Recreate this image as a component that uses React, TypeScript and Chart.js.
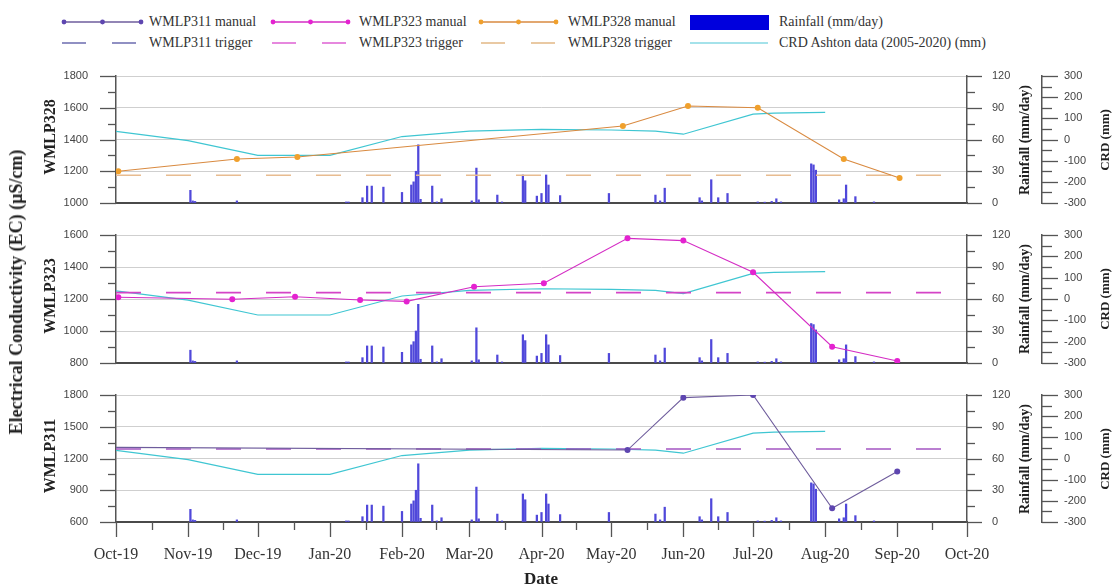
import React, { useEffect, useRef } from 'react';
import { Chart, registerables } from 'chart.js';

Chart.register(...registerables);

// ---------------- data ----------------
const monthTickDates = ['2019-10-01', '2019-11-01', '2019-12-01', '2020-01-01', '2020-02-01', '2020-03-01', '2020-04-01', '2020-05-01', '2020-06-01', '2020-07-01', '2020-08-01', '2020-09-01', '2020-10-01'];
const monthTickLabels = ['Oct-19', 'Nov-19', 'Dec-19', 'Jan-20', 'Feb-20', 'Mar-20', 'Apr-20', 'May-20', 'Jun-20', 'Jul-20', 'Aug-20', 'Sep-20', 'Oct-20'];

const rainDates = [
  '2019-11-02', '2019-11-03', '2019-11-04', '2019-11-22',
  '2020-01-08', '2020-01-09', '2020-01-15', '2020-01-17', '2020-01-19', '2020-01-24',
  '2020-02-01', '2020-02-05', '2020-02-06', '2020-02-07', '2020-02-08', '2020-02-09', '2020-02-14', '2020-02-16', '2020-02-18',
  '2020-03-02', '2020-03-04', '2020-03-05', '2020-03-13', '2020-03-15', '2020-03-24', '2020-03-25', '2020-03-30',
  '2020-04-01', '2020-04-03', '2020-04-04', '2020-04-09', '2020-04-30',
  '2020-05-20', '2020-05-22', '2020-05-24',
  '2020-06-08', '2020-06-09', '2020-06-13', '2020-06-16', '2020-06-20',
  '2020-07-03', '2020-07-06', '2020-07-09', '2020-07-11', '2020-07-13',
  '2020-07-26', '2020-07-27', '2020-07-28',
  '2020-08-07', '2020-08-09', '2020-08-10', '2020-08-14', '2020-08-22',
];
const rainMm = [
  12, 2, 1.5, 2,
  1, 1, 5, 16, 16, 15,
  10, 17, 20, 30, 55, 3.5, 16, 1, 4,
  2, 33, 3, 7.5, 1, 26.5, 21, 6.5,
  9, 26.5, 17, 7, 9,
  7.5, 2, 14,
  5, 2, 22, 5, 9,
  1, 0.8, 1.5, 4, 1,
  37, 36, 31,
  3, 4, 17, 6, 1,
];

const crdDates = ['2019-10-01', '2019-11-01', '2019-12-01', '2020-01-01', '2020-02-01', '2020-03-01', '2020-04-01', '2020-05-01', '2020-05-20', '2020-06-01', '2020-07-01', '2020-07-10', '2020-08-01'];
const crdMm = [38, -5, -75, -75, 14, 40, 48, 45, 40, 25, 120, 125, 128];

const wmlp328Dates = ['2019-10-02', '2019-11-22', '2019-12-18', '2020-05-06', '2020-06-03', '2020-07-03', '2020-08-09', '2020-09-02'];
const wmlp328EC = [1200, 1277, 1290, 1485, 1611, 1600, 1277, 1158];

const wmlp323Dates = ['2019-10-02', '2019-11-20', '2019-12-17', '2020-01-14', '2020-02-03', '2020-03-03', '2020-04-02', '2020-05-08', '2020-06-01', '2020-07-01', '2020-08-04', '2020-09-01'];
const wmlp323EC = [1211, 1198, 1214, 1194, 1185, 1277, 1298, 1579, 1565, 1367, 902, 812];

const wmlp311Dates = ['2019-10-01', '2020-05-08', '2020-06-01', '2020-07-01', '2020-08-04', '2020-09-01'];
const wmlp311EC = [1305, 1280, 1775, 1800, 730, 1078];
const wmlp311Marker = [0, 3, 3, 3, 3, 3];

const triggerDates = ['2019-10-01', '2020-09-21'];
const wmlp328Trigger = [1175, 1175];
const wmlp323Trigger = [1240, 1240];
const wmlp311Trigger = [1290, 1290];

const legendLabels = ['WMLP311 manual', 'WMLP323 manual', 'WMLP328 manual', 'Rainfall (mm/day)', 'WMLP311 trigger', 'WMLP323 trigger', 'WMLP328 trigger', 'CRD Ashton data (2005-2020) (mm)'];

// ---------------- helpers ----------------
const BASE = Date.UTC(2019, 9, 1);
const dayOf = (s: string) => {
  const [y, m, d] = s.split('-').map(Number);
  return (Date.UTC(y, m - 1, d) - BASE) / 86400000;
};
const pts = (dates: string[], vals: number[]) => dates.map((d, i) => ({ x: dayOf(d), y: vals[i] }));

const C = {
  p311: { line: '#6E5C9C', point: '#5E46B0', trig: '#A456C2', legTrig: '#7474B4' },
  p323: { line: '#D42CC4', point: '#E422D0', trig: '#D444C6', legTrig: '#E06AD6' },
  p328: { line: '#D98A40', point: '#F0A02C', trig: '#E8BC90', legTrig: '#E4BC8C' },
  crd: '#3FC6D2',
  rain: '#5048DA',
  axis: '#555555',
  grid: '#CFCFCF',
};

const isMul = (v: number, base: number, step: number) => {
  const q = (v - base) / step;
  return Math.abs(q - Math.round(q)) < 1e-6;
};

const tickMarksPlugin = {
  id: 'tickMarks',
  afterDraw(chart: any, _args: any, opts: any) {
    const ctx = chart.ctx;
    ctx.save();
    ctx.strokeStyle = C.axis;
    ctx.lineWidth = 1.3;
    (opts.axes || []).forEach((a: any) => {
      const s = chart.scales[a.id];
      s.ticks.forEach((t: any) => {
        const y = Math.round(s.getPixelForValue(t.value)) + 0.5;
        const len = isMul(t.value, s.min, a.major) ? a.majorLen : a.minorLen;
        ctx.beginPath();
        if (a.side === 'left') {
          ctx.moveTo(s.right - len, y);
          ctx.lineTo(s.right, y);
        } else {
          ctx.moveTo(s.left, y);
          ctx.lineTo(s.left + len, y);
        }
        ctx.stroke();
      });
    });
    if (opts.xTicks) {
      const s = chart.scales.x;
      const vals = s.ticks.map((t: any) => t.value);
      vals.forEach((v: number, i: number) => {
        const x = Math.round(s.getPixelForValue(v)) + 0.5;
        ctx.beginPath();
        ctx.moveTo(x, s.top);
        ctx.lineTo(x, s.top + 15);
        ctx.stroke();
        if (i < vals.length - 1) {
          const xm = Math.round(s.getPixelForValue((v + vals[i + 1]) / 2)) + 0.5;
          ctx.beginPath();
          ctx.moveTo(xm, s.top);
          ctx.lineTo(xm, s.top + 8);
          ctx.stroke();
        }
      });
    }
    ctx.restore();
  },
};

type PanelCfg = {
  station: string;
  top: number;
  bottom: number;
  ecMin: number;
  ecMax: number;
  ecMinor: number;
  ecMajor: number;
  dates: string[];
  ec: number[];
  marker: number[] | number;
  trigger: number[];
  colors: { line: string; point: string; trig: string };
  showX: boolean;
};

const panels: PanelCfg[] = [
  { station: 'WMLP328', top: 76, bottom: 203, ecMin: 1000, ecMax: 1800, ecMinor: 100, ecMajor: 200, dates: wmlp328Dates, ec: wmlp328EC, marker: 3, trigger: wmlp328Trigger, colors: C.p328, showX: false },
  { station: 'WMLP323', top: 235, bottom: 363, ecMin: 800, ecMax: 1600, ecMinor: 100, ecMajor: 200, dates: wmlp323Dates, ec: wmlp323EC, marker: 3, trigger: wmlp323Trigger, colors: C.p323, showX: false },
  { station: 'WMLP311', top: 395, bottom: 522, ecMin: 600, ecMax: 1800, ecMinor: 150, ecMajor: 300, dates: wmlp311Dates, ec: wmlp311EC, marker: wmlp311Marker, trigger: wmlp311Trigger, colors: C.p311, showX: true },
];

const W = 1113;
const PAD_TOP = 10;

const fixV = (w: number) => (s: any) => {
  s.width = w;
  s.paddingTop = 0;
  s.paddingBottom = 0;
};

function Panel({ cfg }: { cfg: PanelCfg }) {
  const ref = useRef<HTMLCanvasElement>(null);
  const xH = cfg.showX ? 588 - cfg.bottom : 10;
  const H = PAD_TOP + (cfg.bottom - cfg.top) + xH;

  useEffect(() => {
    const tickFont = { family: '"Liberation Sans", Arial, sans-serif', size: 11 };
    const chart = new Chart(ref.current as HTMLCanvasElement, {
      type: 'bar',
      data: {
        datasets: [
          {
            type: 'line',
            label: cfg.station + ' manual',
            data: pts(cfg.dates, cfg.ec),
            yAxisID: 'y',
            borderColor: cfg.colors.line,
            borderWidth: 1.1,
            pointRadius: cfg.marker as any,
            pointBackgroundColor: cfg.colors.point,
            pointBorderWidth: 0,
            tension: 0,
            order: 1,
          } as any,
          {
            type: 'line',
            label: cfg.station + ' trigger',
            data: pts(triggerDates, cfg.trigger),
            yAxisID: 'y',
            borderColor: cfg.colors.trig,
            borderWidth: 1.6,
            borderDash: [25, 25],
            pointRadius: 0,
            order: 2,
          } as any,
          {
            type: 'line',
            label: legendLabels[7],
            data: pts(crdDates, crdMm),
            yAxisID: 'y2',
            borderColor: C.crd,
            borderWidth: 1.2,
            pointRadius: 0,
            tension: 0,
            order: 3,
          } as any,
          {
            type: 'bar',
            label: legendLabels[3],
            data: pts(rainDates, rainMm),
            yAxisID: 'y1',
            backgroundColor: C.rain,
            barThickness: 1.6,
            borderWidth: 0,
            order: 4,
          } as any,
        ],
      },
      options: {
        responsive: false,
        animation: false,
        events: [],
        layout: { padding: { top: PAD_TOP, left: 0, right: 0, bottom: 0 } },
        plugins: {
          legend: { display: false },
          tooltip: { enabled: false },
          tickMarks: {
            axes: [
              { id: 'y', side: 'left', major: cfg.ecMajor, majorLen: 16, minorLen: 8 },
              { id: 'y1', side: 'right', major: 30, majorLen: 15, minorLen: 8 },
              { id: 'y2', side: 'right', major: 100, majorLen: 16, minorLen: 10 },
            ],
            xTicks: cfg.showX,
          },
        } as any,
        scales: {
          x: {
            type: 'linear',
            min: 0,
            max: dayOf(monthTickDates[monthTickDates.length - 1]),
            offset: false,
            grid: { display: false, drawTicks: false, offset: false },
            border: { display: true, color: '#4A4A4A', width: 2 },
            afterBuildTicks: (s: any) => {
              s.ticks = monthTickDates.map((d) => ({ value: dayOf(d) }));
            },
            afterFit: (s: any) => {
              s.height = xH;
              s.paddingLeft = 0;
              s.paddingRight = 0;
            },
            ticks: {
              display: cfg.showX,
              autoSkip: false,
              maxRotation: 0,
              minRotation: 0,
              padding: 23,
              color: '#333',
              font: { family: '"Liberation Serif", serif', size: 16 },
              callback: (_v: any, i: number) => monthTickLabels[i],
            },
          },
          y: {
            type: 'linear',
            position: 'left',
            min: cfg.ecMin,
            max: cfg.ecMax,
            beginAtZero: false,
            afterFit: fixV(116),
            grid: {
              drawTicks: false,
              color: (c: any) => {
                const v = c.tick ? c.tick.value : 0;
                if (v === cfg.ecMin) return 'rgba(0,0,0,0)';
                return isMul(v, cfg.ecMin, cfg.ecMajor) ? C.grid : 'rgba(0,0,0,0)';
              },
              lineWidth: 1,
            },
            border: { display: true, color: C.axis, width: 1.5 },
            ticks: {
              stepSize: cfg.ecMinor,
              padding: 28,
              color: '#444',
              font: tickFont,
              autoSkip: false,
              callback: (v: any) => (isMul(Number(v), cfg.ecMin, cfg.ecMajor) ? String(v) : ''),
            },
          },
          y1: {
            type: 'linear',
            position: 'right',
            weight: 0,
            min: 0,
            max: 120,
            beginAtZero: false,
            afterFit: fixV(75),
            grid: { drawOnChartArea: false, drawTicks: false },
            border: { display: true, color: C.axis, width: 1.5 },
            ticks: {
              stepSize: 15,
              padding: 25,
              color: '#444',
              font: tickFont,
              autoSkip: false,
              callback: (v: any) => (isMul(Number(v), 0, 30) ? String(v) : ''),
            },
          },
          y2: {
            type: 'linear',
            position: 'right',
            weight: 1,
            min: -300,
            max: 300,
            beginAtZero: false,
            afterFit: fixV(71),
            grid: { drawOnChartArea: false, drawTicks: false },
            border: { display: true, color: C.axis, width: 1.5 },
            ticks: {
              stepSize: 50,
              padding: 22,
              color: '#444',
              font: tickFont,
              autoSkip: false,
              callback: (v: any) => (isMul(Number(v), -300, 100) ? String(v) : ''),
            },
          },
        } as any,
      },
      plugins: [tickMarksPlugin as any],
    });
    return () => chart.destroy();
  }, []);

  return (
    <canvas
      ref={ref}
      width={W}
      height={H}
      style={{ position: 'absolute', left: 0, top: cfg.top - PAD_TOP, width: W, height: H }}
    />
  );
}

function VText({ text, cx, cy, size, bold = true }: { text: string; cx: number; cy: number; size: number; bold?: boolean }) {
  return (
    <div
      style={{
        position: 'absolute',
        left: cx,
        top: cy,
        transform: 'translate(-50%, -50%) rotate(-90deg)',
        whiteSpace: 'nowrap',
        fontFamily: '"Liberation Serif", serif',
        fontWeight: bold ? 700 : 400,
        fontSize: size,
        lineHeight: `${size + 2}px`,
        color: '#222',
      }}
    >
      {text}
    </div>
  );
}

function LegText({ text, x, y }: { text: string; x: number; y: number }) {
  return (
    <div
      style={{
        position: 'absolute',
        left: x,
        top: y - 9,
        height: 18,
        lineHeight: '18px',
        whiteSpace: 'nowrap',
        fontFamily: '"Liberation Serif", serif',
        fontSize: 14,
        color: '#333',
      }}
    >
      {text}
    </div>
  );
}

function Legend() {
  const r1 = 22;
  const r2 = 43;
  const manual = (x0: number, x1: number, col: { line: string; point: string }) => (
    <g>
      <line x1={x0} y1={r1} x2={x1} y2={r1} stroke={col.line} strokeWidth={1.4} />
      {[x0, (x0 + x1) / 2, x1].map((x, i) => (
        <circle key={i} cx={x} cy={r1} r={2.4} fill={col.point} />
      ))}
    </g>
  );
  const trig = (x0: number, col: string) => (
    <g>
      <line x1={x0} y1={r2} x2={x0 + 24} y2={r2} stroke={col} strokeWidth={1.6} />
      <line x1={x0 + 50} y1={r2} x2={x0 + 74} y2={r2} stroke={col} strokeWidth={1.6} />
    </g>
  );
  return (
    <>
      <svg style={{ position: 'absolute', left: 0, top: 0 }} width={W} height={60}>
        {manual(64, 141, C.p311)}
        {manual(273, 348, C.p323)}
        {manual(481, 556, C.p328)}
        <rect x={690} y={15} width={79} height={15} fill="#0000DD" />
        {trig(62, C.p311.legTrig)}
        {trig(272, C.p323.legTrig)}
        {trig(481, C.p328.legTrig)}
        <line x1={690} y1={r2} x2={768} y2={r2} stroke="#A4E2EA" strokeWidth={2} />
      </svg>
      <LegText text={legendLabels[0]} x={149} y={r1} />
      <LegText text={legendLabels[1]} x={359} y={r1} />
      <LegText text={legendLabels[2]} x={568} y={r1} />
      <LegText text={legendLabels[3]} x={779} y={r1} />
      <LegText text={legendLabels[4]} x={149} y={r2} />
      <LegText text={legendLabels[5]} x={359} y={r2} />
      <LegText text={legendLabels[6]} x={568} y={r2} />
      <LegText text={legendLabels[7]} x={779} y={r2} />
    </>
  );
}

export default function App() {
  return (
    <div style={{ position: 'absolute', left: 0, top: 0, width: W, height: 588, overflow: 'hidden', background: '#fff' }}>
      <Legend />
      {panels.map((p) => (
        <Panel key={p.station} cfg={p} />
      ))}
      <VText text="Electrical Conductivity (EC) (µS/cm)" cx={16} cy={292} size={18} />
      {panels.map((p) => (
        <VText key={'s' + p.station} text={p.station} cx={50} cy={(p.top + p.bottom) / 2 - 3} size={16} />
      ))}
      {panels.map((p) => (
        <VText key={'r' + p.station} text="Rainfall (mm/day)" cx={1025} cy={(p.top + p.bottom) / 2} size={14} />
      ))}
      {panels.map((p) => (
        <VText key={'c' + p.station} text="CRD (mm)" cx={1104} cy={(p.top + p.bottom) / 2} size={13} />
      ))}
      <div
        style={{
          position: 'absolute',
          left: 541,
          top: 579,
          transform: 'translate(-50%, -50%)',
          fontFamily: '"Liberation Serif", serif',
          fontWeight: 700,
          fontSize: 17,
          color: '#222',
          whiteSpace: 'nowrap',
        }}
      >
        Date
      </div>
    </div>
  );
}
